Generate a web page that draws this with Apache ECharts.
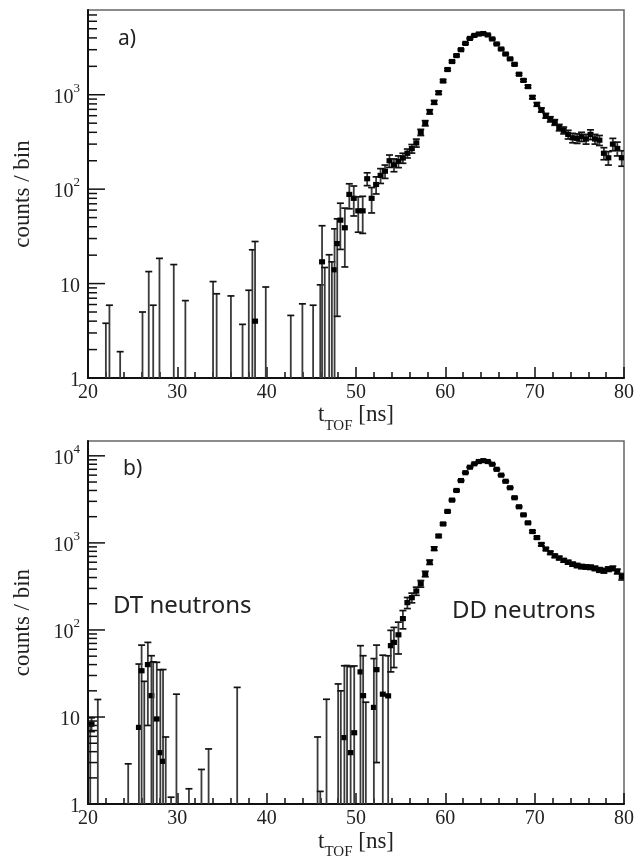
<!DOCTYPE html>
<html><head><meta charset="utf-8">
<script src="https://cdn.jsdelivr.net/npm/echarts@6/dist/echarts.min.js"></script>
<style>html,body{margin:0;padding:0;background:#fff}#c{width:637px;height:861px}</style>
</head><body><div id="c"></div>
<script>
// ---- panel a) data: bin centre (ns), counts, error ----
const tA=[22.0,22.4,23.6,26.1,26.8,27.3,28.0,29.6,30.9,34.0,34.4,36.0,37.3,38.0,38.4,38.7,39.9,42.7,44.0,45.2,46.0,46.2,46.5,47.0,47.3,47.6,47.9,
48.25,48.75,49.25,49.75,50.25,50.75,51.25,51.75,52.25,52.75,53.25,53.75,54.25,54.75,55.25,55.75,56.25,56.75,57.25,57.75,
58.25,58.75,59.25,59.75,60.25,60.75,61.25,61.75,62.25,62.75,63.25,63.75,64.25,64.75,65.25,65.75,66.25,66.75,67.25,67.75,
68.25,68.75,69.25,69.75,70.25,70.75,71.25,71.75,72.25,72.75,73.25,73.75,74.25,74.75,75.25,75.75,76.25,76.75,77.25,77.75,
78.25,78.75,79.25,79.75];
const yA=[0,0,0,0,0,0,0,0,0,0,0,0,0,0,0,4.0,0,0,0,0,0,17,0,0,0,14,26.5,
47,39,88,80,59,59,129,80,112,140,155,200,181,197,214,240,269,309,400,500,
660,830,1050,1400,1850,2250,2600,3000,3500,3950,4250,4400,4450,4300,3900,3450,3050,2700,2400,2100,
1650,1420,1220,940,790,690,600,550,510,450,420,380,350,345,360,340,380,340,330,240,
215,300,270,215];
const eA=[3.8,5.9,1.9,5.0,13.4,5.9,18.5,15.9,6.6,10.5,7.8,7.4,3.7,8.5,22.8,23.9,9.2,4.6,6.1,5.9,9.7,24,14.8,20.2,17,24,22,
24,24,26,28,24,25,20,24,23,25,25,30,28,28,26,26,28,30,30,32,
35,38,40,45,50,55,55,60,65,65,70,70,70,70,65,60,60,55,50,50,
45,40,40,35,35,35,35,35,35,35,35,40,40,40,40,40,45,40,40,35,
35,45,45,40];
// ---- panel b) data ----
const tB=[20.25,20.4,21.1,24.5,25.7,26.0,26.3,26.7,27.1,27.3,27.7,28.1,28.4,28.7,29.3,29.9,31.3,32.7,33.5,36.7,45.7,46.0,46.7,48.0,48.3,48.7,49.0,49.4,49.8,50.5,50.8,51.1,52.0,52.3,53.0,53.6,53.9,
54.25,54.75,55.25,55.75,56.25,56.75,57.25,57.75,58.25,58.75,59.25,59.75,60.25,60.75,61.25,61.75,62.25,62.75,63.25,63.75,
64.25,64.75,65.25,65.75,66.25,66.75,67.25,67.75,68.25,68.75,69.25,69.75,70.25,70.75,71.25,71.75,72.25,72.75,73.25,73.75,
74.25,74.75,75.25,75.75,76.25,76.75,77.25,77.75,78.25,78.75,79.25,79.75];
const yB=[0,8.3,0,0,7.6,34,0,40,17.6,0,9.5,3.9,3.1,0,0,0,0,0,0,0,0,0,0,0,0,5.8,0,3.9,6.6,33,17.6,0,12.9,35,18.3,17.5,66,
72,88,135,206,235,280,340,440,600,860,1200,1650,2300,3100,4000,5200,6400,7400,8100,8600,
8800,8600,8000,7000,6000,5100,4300,3300,2600,2100,1700,1350,1150,960,850,770,710,670,630,600,
570,550,535,530,525,510,490,480,500,510,470,410];
const eB=[8,1.5,15.9,2.9,33,33,25.7,32,33,43,33,31,32,5.9,1.2,18.3,1.5,2.5,4.3,21.9,5.9,1.4,16,24,20,33,39,34,32,33,33,14.8,34,32,33,33,33,
35,35,32,30,30,30,30,32,35,40,40,45,50,60,70,80,80,90,90,90,
95,90,90,85,80,70,65,60,50,45,40,40,35,35,30,30,30,30,30,30,
30,30,30,30,30,30,30,30,30,30,30,35];
// ---- axes ----
const xTicks=[20,30,40,50,60,70,80];
const yMajorA=[1,10,100,1000];
const yMajorB=[1,10,100,1000,10000];
const yMaxA=7900, yMaxB=14800;
const panelLabels=['a)','b)'];
const regionLabels=['DT neutrons','DD neutrons'];
const yName='counts / bin';

const SERIF='"Liberation Serif","DejaVu Serif",serif';
const SANS='"Noto Sans","Open Sans",sans-serif';

function pts(t,y,e){return t.map((v,i)=>[v,y[i],e[i]]);}
function tickData(majors,max){
  const out=[];
  majors.forEach(d=>{out.push([xTicks[0],d,1]);for(let k=2;k<=9;k++){if(k*d<=max)out.push([xTicks[0],k*d,0]);}});
  return out;
}
function errItem(params,api){
  const t=api.value(0),y=api.value(1),e=api.value(2);
  const hi=y+e,lo=y-e;
  const base=api.coord([t,1]);
  const x=base[0];
  const ch=[];
  if(hi>1){
    const top=api.coord([t,hi])[1];
    const bot=lo>1?api.coord([t,lo])[1]:base[1];
    ch.push({type:'line',shape:{x1:x,y1:bot,x2:x,y2:top},style:{stroke:'#3a3a3a',lineWidth:1.8}});
    ch.push({type:'line',shape:{x1:x-3.5,y1:top,x2:x+3.5,y2:top},style:{stroke:'#111',lineWidth:1.7}});
    if(lo>1)ch.push({type:'line',shape:{x1:x-3.5,y1:bot,x2:x+3.5,y2:bot},style:{stroke:'#111',lineWidth:1.7}});
  }
  if(y>=1){
    const p=api.coord([t,y]);
    ch.push({type:'rect',shape:{x:p[0]-3,y:p[1]-2.6,width:6,height:5.2},style:{fill:'#000'}});
  }
  return {type:'group',children:ch};
}
function tickItem(params,api){
  const p=api.coord([api.value(0),api.value(1)]);
  const len=api.value(2)?17:9;
  return {type:'line',shape:{x1:p[0],y1:p[1],x2:p[0]+len,y2:p[1]},style:{stroke:'#111',lineWidth:1.5}};
}
function yFmt(v){
  const l=Math.log10(v),r=Math.round(l);
  if(Math.abs(l-r)>1e-6)return '';
  if(r===0)return '{b|1}';
  if(r===1)return '{b|10}';
  return '{b|10}{s|'+r+'}';
}
const grids=[{left:88,top:10,width:540,height:368},{left:88,top:441,width:540,height:366}];
function xAx(i){return {gridIndex:i,type:'value',min:20,max:80,interval:10,
  axisLine:{lineStyle:{color:'#111',width:2}},
  axisTick:{inside:true,length:11,lineStyle:{color:'#111',width:1.5}},
  minorTick:{show:true,splitNumber:5,length:6,lineStyle:{color:'#111',width:1.5}},
  splitLine:{show:false},
  axisLabel:{fontFamily:SERIF,fontSize:20,color:'#222',margin:5},
  name:'{t|t}{sub|TOF}{n| [ns]}',nameLocation:'middle',nameGap:25,
  nameTextStyle:{rich:{t:{fontFamily:SERIF,fontSize:23,color:'#222',lineHeight:30,verticalAlign:'top'},
    sub:{fontFamily:SERIF,fontSize:15,color:'#222',lineHeight:18,verticalAlign:'bottom'},
    n:{fontFamily:SERIF,fontSize:23,color:'#222',lineHeight:30,verticalAlign:'top'}}}};}
function yAx(i,max){return {gridIndex:i,type:'log',min:1,max:max,logBase:10,
  axisLine:{lineStyle:{color:'#111',width:2}},axisTick:{show:false},splitLine:{show:false},
  axisLabel:{formatter:yFmt,margin:8,rich:{b:{fontFamily:SERIF,fontSize:20,color:'#222',lineHeight:26,verticalAlign:'bottom'},
    s:{fontFamily:SERIF,fontSize:13,color:'#222',lineHeight:14,verticalAlign:'top'}}},
  name:yName,nameLocation:'middle',nameGap:54,nameRotate:90,
  nameTextStyle:{fontFamily:SERIF,fontSize:23,color:'#222'}};}

const chart=echarts.init(document.getElementById('c'),null,{renderer:'canvas'});
chart.setOption({
  animation:false,backgroundColor:'#fff',
  grid:grids.map(g=>Object.assign({show:true,borderColor:'#666',borderWidth:1.5,backgroundColor:'transparent'},g)),
  xAxis:[xAx(0),xAx(1)],
  yAxis:[yAx(0,yMaxA),yAx(1,yMaxB)],
  series:[
    {type:'custom',xAxisIndex:0,yAxisIndex:0,renderItem:tickItem,data:tickData(yMajorA,yMaxA),clip:false,silent:true,z:5},
    {type:'custom',xAxisIndex:1,yAxisIndex:1,renderItem:tickItem,data:tickData(yMajorB,yMaxB),clip:false,silent:true,z:5},
    {type:'custom',xAxisIndex:0,yAxisIndex:0,renderItem:errItem,data:pts(tA,yA,eA),clip:true,silent:true},
    {type:'custom',xAxisIndex:1,yAxisIndex:1,renderItem:errItem,data:pts(tB,yB,eB),clip:true,silent:true}
  ],
  graphic:[
    {type:'text',left:118,top:29,style:{text:panelLabels[0],font:'21px '+SANS,fill:'#222'}},
    {type:'text',left:123,top:459,style:{text:panelLabels[1],font:'21px '+SANS,fill:'#222'}},
    {type:'text',left:113,top:594,style:{text:regionLabels[0],font:'24px '+SANS,fill:'#222'}},
    {type:'text',left:452,top:599,style:{text:regionLabels[1],font:'24px '+SANS,fill:'#222'}}
  ]
});
</script></body></html>
